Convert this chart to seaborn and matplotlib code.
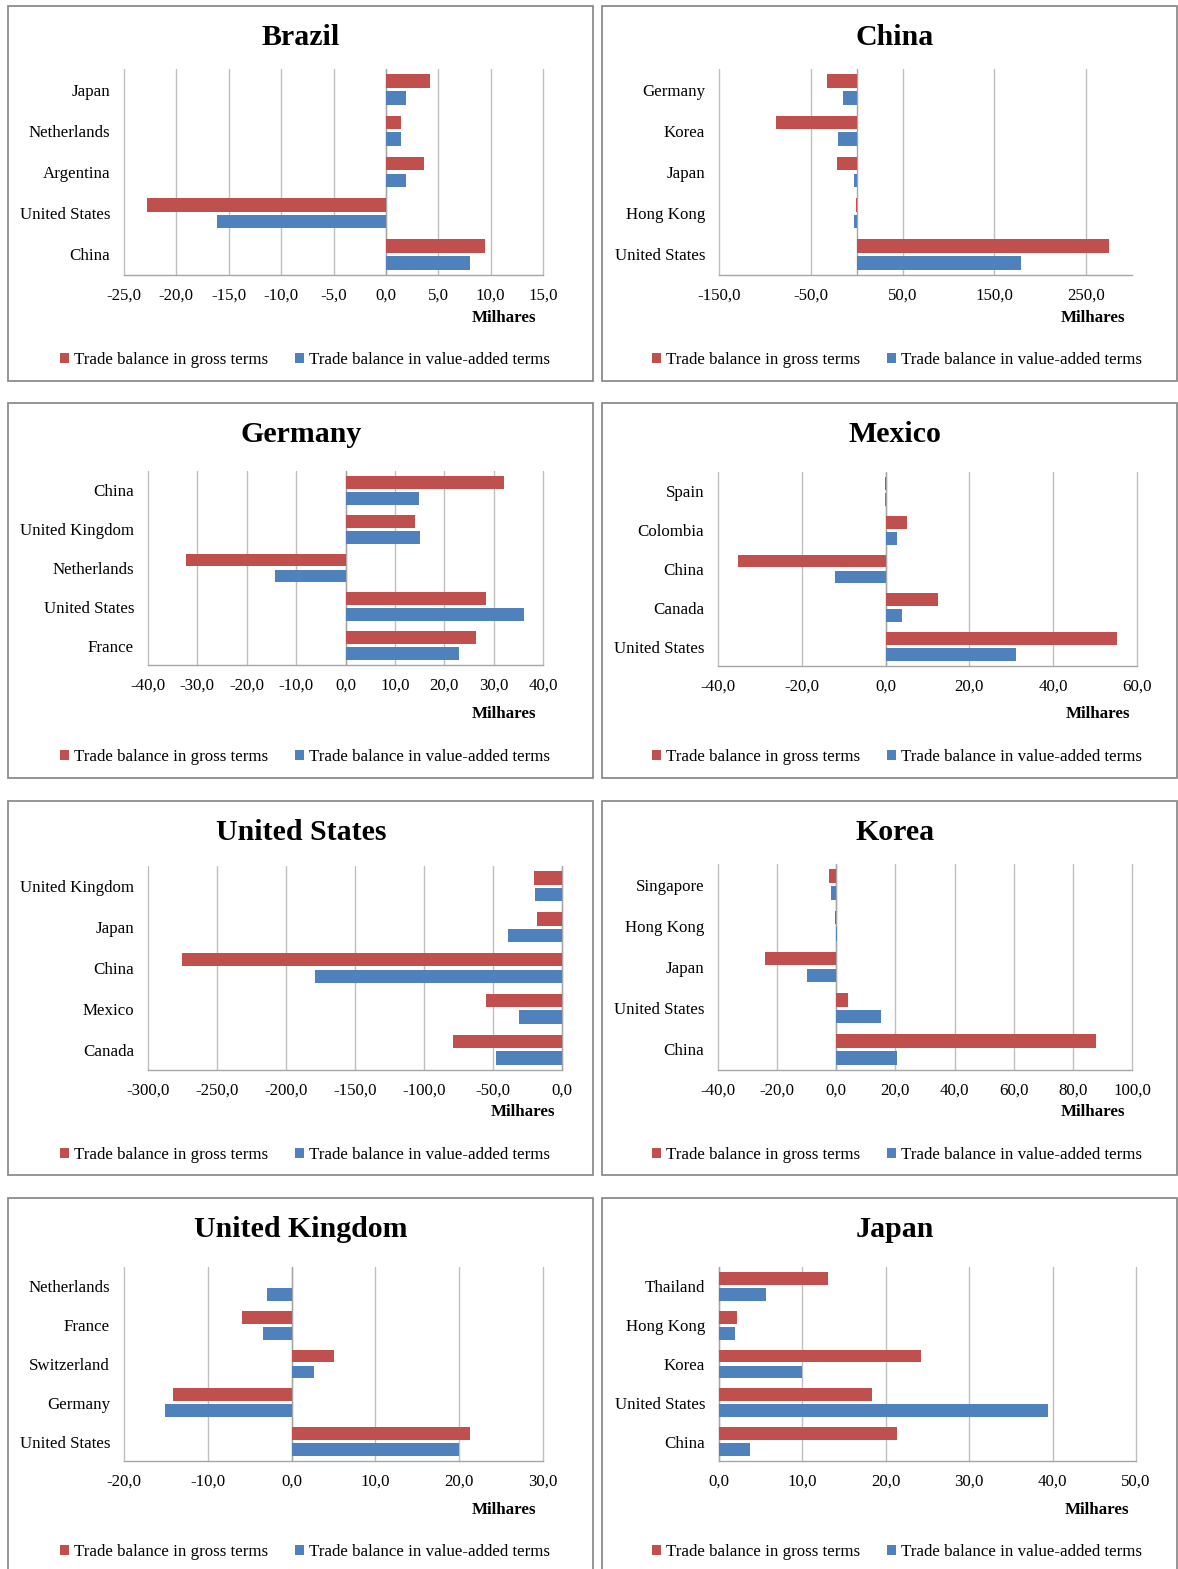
import matplotlib
matplotlib.use("Agg")
import matplotlib.pyplot as plt
import seaborn as sns
import pandas as pd
import numpy as np
from matplotlib.patches import Rectangle, Patch
from matplotlib.ticker import FuncFormatter

# ---------------- data ----------------
series_names = ["Trade balance in gross terms", "Trade balance in value-added terms"]

brazil_partners = ["Japan", "Netherlands", "Argentina", "United States", "China"]
brazil_gross = [4.2, 1.4, 3.6, -22.8, 9.5]
brazil_va = [1.9, 1.4, 1.9, -16.1, 8.0]

china_partners = ["Germany", "Korea", "Japan", "Hong Kong", "United States"]
china_gross = [-32.7, -87.4, -21.0, -1.2, 275.0]
china_va = [-14.6, -19.8, -3.2, -3.0, 179.6]

germany_partners = ["China", "United Kingdom", "Netherlands", "United States", "France"]
germany_gross = [32.2, 14.1, -32.3, 28.5, 26.4]
germany_va = [14.9, 15.1, -14.2, 36.2, 22.9]

mexico_partners = ["Spain", "Colombia", "China", "Canada", "United States"]
mexico_gross = [-0.2, 5.2, -35.2, 12.4, 55.2]
mexico_va = [-0.2, 2.7, -12.1, 3.8, 31.2]

us_partners = ["United Kingdom", "Japan", "China", "Mexico", "Canada"]
us_gross = [-20.6, -17.9, -275.3, -55.0, -79.2]
us_va = [-19.5, -39.0, -179.3, -30.8, -48.1]

korea_partners = ["Singapore", "Hong Kong", "Japan", "United States", "China"]
korea_gross = [-2.6, -0.4, -24.1, 4.0, 87.7]
korea_va = [-1.9, 0.4, -9.9, 15.1, 20.4]

uk_partners = ["Netherlands", "France", "Switzerland", "Germany", "United States"]
uk_gross = [0.0, -5.9, 5.0, -14.2, 21.3]
uk_va = [-2.95, -3.4, 2.7, -15.1, 20.0]

japan_partners = ["Thailand", "Hong Kong", "Korea", "United States", "China"]
japan_gross = [13.1, 2.1, 24.2, 18.3, 21.3]
japan_va = [5.65, 1.96, 10.0, 39.5, 3.7]

RED = "#C0504D"
BLUE = "#4F81BD"

W, H = 1178, 1569

sns.set_theme(style="white")
plt.rcParams["font.family"] = ["Liberation Serif", "DejaVu Serif"]
plt.rcParams["text.color"] = "black"
plt.rcParams["axes.labelcolor"] = "black"
plt.rcParams["xtick.color"] = "black"
plt.rcParams["ytick.color"] = "black"

fig = plt.figure(figsize=(W / 100, H / 100), dpi=100)
fig.patch.set_facecolor("white")

# (title, partners, gross, va, xmin, xmax, step, plot box (l, t, r, b), panel box (l, t, r, b), title_cx, legend_cx)
panels = [
    ("Brazil", brazil_partners, brazil_gross, brazil_va, -25, 15, 5,
     (124, 69, 543, 275), (7.5, 5.5, 592.5, 380.5), 301, 305),
    ("China", china_partners, china_gross, china_va, -150, 300, 100,
     (719, 69, 1132, 275), (601.5, 5.5, 1177, 380.5), 895, 897),
    ("Germany", germany_partners, germany_gross, germany_va, -40, 40, 10,
     (148, 471, 543, 665), (7.5, 402.5, 592.5, 778), 301, 305),
    ("Mexico", mexico_partners, mexico_gross, mexico_va, -40, 60, 20,
     (718, 472, 1137, 666), (601.5, 402.5, 1177, 778), 895, 897),
    ("United States", us_partners, us_gross, us_va, -300, 0, 50,
     (148, 866, 562, 1070), (7.5, 800.5, 592.5, 1175), 301, 305),
    ("Korea", korea_partners, korea_gross, korea_va, -40, 100, 20,
     (718, 864, 1132, 1070), (601.5, 800.5, 1177, 1175), 895, 897),
    ("United Kingdom", uk_partners, uk_gross, uk_va, -20, 30, 10,
     (124, 1267, 543, 1461), (7.5, 1197.5, 592.5, 1590), 301, 305),
    ("Japan", japan_partners, japan_gross, japan_va, 0, 50, 10,
     (719, 1267, 1136, 1461), (601.5, 1197.5, 1177, 1590), 895, 897),
]

fmt = FuncFormatter(lambda v, p: f"{v:.1f}".replace(".", ","))

for (name, partners, gross, va, xmin, xmax, step, pbox, bbox, tcx, lcx) in panels:
    l, t, r, b = pbox
    ax = fig.add_axes([l / W, 1 - b / H, (r - l) / W, (b - t) / H])
    df = pd.DataFrame({
        "partner": partners + partners,
        "value": gross + va,
        "series": [series_names[0]] * len(partners) + [series_names[1]] * len(partners),
    })
    sns.barplot(data=df, y="partner", x="value", hue="series", order=partners,
                hue_order=series_names, palette=[RED, BLUE], orient="h",
                width=0.82, gap=0.2, saturation=1, errorbar=None,
                legend=False, ax=ax, linewidth=0, zorder=3)
    ax.set_xlim(xmin, xmax)
    ticks = np.arange(xmin, xmax + 1e-9, step)
    ax.set_xticks(ticks)
    ax.xaxis.set_major_formatter(fmt)
    ax.set_xlabel("")
    ax.set_ylabel("")
    ax.set_facecolor("white")
    ax.grid(axis="x", color="#BFBFBF", linewidth=1.0, zorder=0)
    ax.grid(axis="y", visible=False)
    for gl in ax.get_xgridlines():
        gl.set_clip_on(False)
    ax.set_axisbelow(True)
    for s in ["top", "right", "left"]:
        ax.spines[s].set_visible(False)
    ax.spines["bottom"].set_color("#A6A6A6")
    ax.spines["bottom"].set_linewidth(1.0)
    zl = ax.axvline(0, color="#A6A6A6", linewidth=1.0, zorder=2)
    zl.set_clip_on(False)
    ax.tick_params(axis="x", length=0, pad=9, labelsize=12.2, colors="black")
    ax.tick_params(axis="y", length=0, pad=10, labelsize=12.2, colors="black")

    # panel border
    bl, bt, br, bb = bbox
    fig.add_artist(Rectangle((bl / W, 1 - bb / H), (br - bl) / W, (bb - bt) / H,
                             transform=fig.transFigure, fill=False,
                             edgecolor="#8C8C8C", linewidth=1.3))
    # title
    fig.text(tcx / W, 1 - (bt + 32) / H, name, ha="center", va="center",
             fontsize=21.5, fontweight="bold", color="black")
    # unit label
    fig.text((r - 7) / W, 1 - (bt + 312) / H, "Milhares", ha="right", va="center",
             fontsize=12.2, fontweight="bold", color="black")
    # legend
    handles = [Patch(facecolor=RED, edgecolor="none"), Patch(facecolor=BLUE, edgecolor="none")]
    fig.legend(handles, series_names, loc="center",
               bbox_to_anchor=(lcx / W, 1 - (bt + 354.5) / H),
               bbox_transform=fig.transFigure, ncol=2, frameon=False,
               fontsize=12.2, handlelength=0.5, handleheight=0.5,
               handletextpad=0.3, columnspacing=1.6, borderaxespad=0, borderpad=0,
               labelcolor="black")

fig.savefig("out.png", dpi=100, facecolor="white")
